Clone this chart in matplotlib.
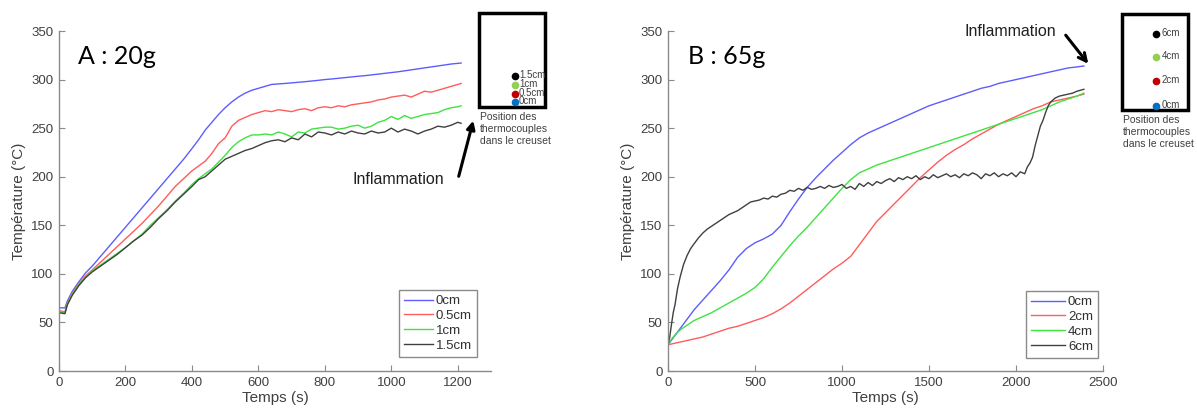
import numpy as np
import matplotlib
matplotlib.use("Agg")
import matplotlib.pyplot as plt
from matplotlib.patches import Rectangle

plt.rcParams['font.family'] = ['Liberation Sans', 'DejaVu Sans']

# ---- panel A : 20g ----
t_a = [0, 18, 25, 40, 60, 80, 100, 125, 150, 175, 200, 225, 250, 275, 300, 325, 350, 375, 400,
       420, 440, 460, 480, 500, 520, 540, 560, 580, 600, 620, 640, 660, 680, 700, 720, 740, 760,
       780, 800, 820, 840, 860, 880, 900, 920, 940, 960, 980, 1000, 1020, 1040, 1060, 1080, 1100,
       1120, 1140, 1160, 1180, 1200, 1210]
a_0cm = [65, 65, 72, 82, 92, 101, 108, 118, 128, 138, 148, 158, 168, 178, 188, 198, 208, 218, 229,
         238, 248, 256, 264, 271, 277, 282, 286, 289, 291, 293, 295, 295.5, 296, 296.6, 297.2, 297.8,
         298.5, 299.2, 300, 300.6, 301.3, 302, 302.7, 303.4, 304, 304.8, 305.6, 306.4, 307.2, 308,
         309, 310, 311, 312, 313, 314, 315, 316, 316.7, 317]
a_05cm = [62, 61, 70, 80, 90, 98, 104, 112, 120, 128, 136, 144, 152, 161, 170, 180, 190, 198, 206,
          211, 216, 224, 234, 240, 252, 258, 261, 264, 266, 268, 267, 269, 268, 267, 269, 270,
          268, 271, 272, 271, 273, 272, 274, 275, 276, 277, 279, 280, 282, 283, 284, 282, 285, 288,
          287, 289, 291, 293, 295, 296]
a_1cm = [61, 60, 69, 79, 89, 97, 103, 109, 115, 121, 127, 134, 141, 150, 158, 166, 175, 183, 192,
         198, 203, 208, 215, 222, 230, 236, 240, 243, 243, 244, 243, 246, 244, 241, 246, 245,
         249, 250, 251, 251, 249, 250, 252, 253, 250, 252, 256, 258, 262, 259, 263, 260, 262, 264,
         265, 266, 269, 271, 272, 273]
a_15cm = [60, 59, 68, 78, 88, 96, 102, 108, 114, 120, 127, 134, 140, 148, 157, 165, 174, 182, 190,
          197, 200, 206, 212, 218, 221, 224, 227, 229, 232, 235, 237, 238, 236, 240, 238, 244,
          241, 246, 245, 243, 246, 244, 247, 245, 244, 247, 245, 246, 250, 246, 249, 247, 244, 247,
          249, 252, 251, 253, 256, 255]

# ---- panel B : 65g ----
t_b = [0, 25, 50, 75, 100, 150, 200, 250, 300, 350, 400, 450, 500, 550, 600, 650, 700, 750, 800,
       850, 900, 950, 1000, 1050, 1100, 1150, 1200, 1250, 1300, 1350, 1400, 1450, 1500, 1550, 1600,
       1650, 1700, 1750, 1800, 1850, 1900, 1950, 2000, 2050, 2100, 2150, 2200, 2250, 2300, 2350, 2390]
b_0cm = [27, 33, 39, 45, 51, 63, 73, 83, 93, 104, 117, 126, 132, 136, 141, 150, 164, 177, 189,
         199, 208, 217, 225, 233, 240, 245, 249, 253, 257, 261, 265, 269, 273, 276, 279,
         282, 285, 288, 291, 293, 296, 298, 300, 302, 304, 306, 308, 310, 312, 313, 314]
b_2cm = [27, 28, 29, 30, 31, 33, 35, 38, 41, 44, 46, 49, 52, 55, 59, 64, 70, 77, 84,
         91, 98, 105, 111, 118, 130, 142, 154, 163, 172, 181, 190, 199, 207, 215, 222,
         228, 233, 239, 244, 249, 254, 258, 262, 266, 270, 273, 277, 279, 281, 283, 285]
b_4cm = [27, 34, 39, 43, 46, 52, 56, 60, 65, 70, 75, 80, 86, 95, 107, 118, 129, 139, 148,
         158, 168, 178, 188, 197, 204, 208, 212, 215, 218, 221, 224, 227, 230, 233, 236,
         239, 242, 245, 248, 251, 254, 257, 260, 263, 266, 269, 273, 277, 280, 283, 286]
t_b6 = [0, 10, 20, 30, 40, 55, 70, 90, 110, 130, 150, 175, 200, 225, 250, 275, 300, 325, 350, 375,
        400, 425, 450, 475, 500, 525, 550, 575, 600, 625, 650, 675, 700, 725, 750, 775, 800, 825,
        850, 875, 900, 925, 950, 975, 1000, 1025, 1050, 1075, 1100, 1125, 1150, 1175, 1200, 1225,
        1250, 1275, 1300, 1325, 1350, 1375, 1400, 1425, 1450, 1475, 1500, 1525, 1550, 1575, 1600,
        1625, 1650, 1675, 1700, 1725, 1750, 1775, 1800, 1825, 1850, 1875, 1900, 1925, 1950, 1975,
        2000, 2025, 2050, 2065, 2080, 2095, 2110, 2125, 2140, 2155, 2170, 2185, 2200, 2225, 2250,
        2275, 2300, 2325, 2350, 2390]
b_6cm = [27, 35, 48, 60, 68, 85, 97, 110, 119, 126, 131, 137, 142, 146, 149, 152, 155, 158, 161, 163,
         165, 168, 171, 174, 175, 176, 178, 177, 180, 179, 182, 183, 186, 185, 188, 186, 189, 187,
         188, 190, 188, 191, 189, 190, 192, 188, 190, 187, 193, 190, 194, 191, 195, 193,
         196, 198, 195, 199, 197, 200, 198, 201, 197, 200, 198, 202, 199, 201, 203,
         200, 202, 199, 203, 201, 204, 202, 198, 203, 201, 204, 200, 203, 201, 204,
         200, 205, 203, 210, 214, 220, 232, 242, 252, 258, 266, 273, 277, 281, 283,
         284, 285, 286, 288, 290]

colors = ['#5d5dff', '#ff5c5c', '#3fe33f', '#404040']
labels_a = ['0cm', '0.5cm', '1cm', '1.5cm']
labels_b = ['0cm', '2cm', '4cm', '6cm']
dot_colors = ['#0070c0', '#c00000', '#92d050', '#000000']

W, H = 1197, 416
fig = plt.figure(figsize=(W / 100, H / 100), dpi=100)


def fx(px):
    return px / W


def fy(py):
    return 1 - py / H


def style_axes(ax, xmax, xticks):
    ax.set_xlim(0, xmax)
    ax.set_ylim(0, 350)
    ax.set_xticks(xticks)
    ax.set_yticks(range(0, 351, 50))
    for s in ['top', 'right']:
        ax.spines[s].set_visible(False)
    for s in ['left', 'bottom']:
        ax.spines[s].set_color('#8a8a8a')
        ax.spines[s].set_linewidth(1.0)
    ax.tick_params(direction='in', length=4, color='#8a8a8a', labelcolor='#404040',
                   labelsize=9.5, pad=4)
    ax.set_xlabel('Temps (s)', fontsize=11, color='#404040', labelpad=2)
    ax.set_ylabel('Température (°C)', fontsize=11, color='#404040', labelpad=4)


ax1 = fig.add_axes([fx(59), fy(371), fx(491) - fx(59), fy(31) - fy(371)])
for ys, c, lab in zip([a_0cm, a_05cm, a_1cm, a_15cm], colors, labels_a):
    ax1.plot(t_a, ys, color=c, lw=1.0, label=lab)
style_axes(ax1, 1300, range(0, 1201, 200))
leg = ax1.legend(loc='lower right', bbox_to_anchor=(0.968, 0.041), borderaxespad=0,
                 fontsize=9.5, handlelength=2.2, handletextpad=0.2, labelspacing=0.2,
                 fancybox=False, framealpha=1, borderpad=0.4)
leg.get_frame().set_edgecolor('#8a8a8a')
for txt in leg.get_texts():
    txt.set_color('#303030')

ax2 = fig.add_axes([fx(668), fy(371), fx(1103) - fx(668), fy(31) - fy(371)])
for tt, ys, c, lab in zip([t_b, t_b, t_b, t_b6], [b_0cm, b_2cm, b_4cm, b_6cm], colors, labels_b):
    ax2.plot(tt, ys, color=c, lw=1.0, label=lab)
style_axes(ax2, 2500, range(0, 2501, 500))
leg = ax2.legend(loc='lower right', bbox_to_anchor=(0.989, 0.038), borderaxespad=0,
                 fontsize=9.5, handlelength=2.6, handletextpad=0.2, labelspacing=0.2,
                 fancybox=False, framealpha=1, borderpad=0.4)
leg.get_frame().set_edgecolor('#8a8a8a')
for txt in leg.get_texts():
    txt.set_color('#303030')

# panel titles
fig.text(fx(78), fy(56), 'A : 20g', fontsize=18, family=['Lato', 'DejaVu Sans'], va='center')
fig.text(fx(688), fy(56), 'B : 65g', fontsize=18, family=['Lato', 'DejaVu Sans'], va='center')

# crucible insets
def inset(x0, y0, x1, y1, dot_x, dot_ys, labs, gap):
    fig.patches.append(Rectangle((fx(x0), fy(y1)), fx(x1) - fx(x0), fy(y0) - fy(y1),
                                 transform=fig.transFigure, fill=False, ec='black', lw=2.5))
    for dy, c, lab in zip(dot_ys, dot_colors, labs):
        fig.lines.append(plt.Line2D([fx(dot_x)], [fy(dy)], transform=fig.transFigure,
                                    marker='o', ms=4.5, color=c, ls='none'))
        fig.text(fx(dot_x + gap), fy(dy - 1), lab, fontsize=7, color='#404040', va='center')
    fig.text(fx(x0 + 1), fy(y1 + 5), 'Position des\nthermocouples\ndans le creuset',
             fontsize=7.5, color='#404040', va='top', linespacing=1.25)


inset(479, 13, 545, 107, 515, [102, 94, 85, 76], labels_a, 4)
inset(1122, 14, 1188, 110, 1156, [106, 81, 57, 34], labels_b, 6)

# ignition arrows
fig.text(fx(398), fy(179), 'Inflammation', fontsize=11.5, ha='center', va='center', color='#202020')
fig.patches.append(matplotlib.patches.FancyArrowPatch(
    (fx(458), fy(179)), (fx(474), fy(118)), transform=fig.transFigure,
    arrowstyle='-|>', mutation_scale=12, lw=2.2, color='black'))
fig.text(fx(1010), fy(31), 'Inflammation', fontsize=11.5, ha='center', va='center', color='#202020')
fig.patches.append(matplotlib.patches.FancyArrowPatch(
    (fx(1064), fy(33)), (fx(1090), fy(66)), transform=fig.transFigure,
    arrowstyle='->', mutation_scale=14, lw=2.2, color='black'))

fig.savefig('out.png', dpi=100)
